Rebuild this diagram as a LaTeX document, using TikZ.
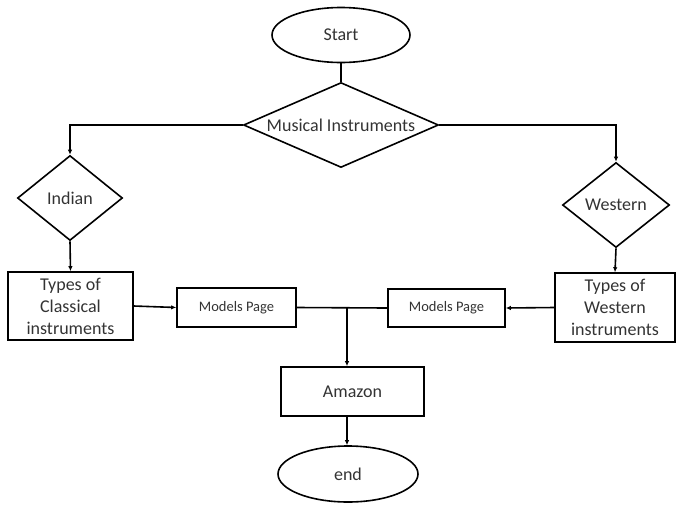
\documentclass[tikz,border=0pt]{standalone}
\usepackage{fontspec}
\setmainfont{Carlito}
\usetikzlibrary{shapes.geometric,arrows.meta}
\begin{document}
\begin{tikzpicture}[x=1pt,y=-1pt,
  every node/.style={font=\fontsize{18}{22}\selectfont, text=black!80},
  line/.style={draw=black, line width=1.6pt},
  arr/.style={line, -{Latex[length=5pt,width=4.5pt]}},
  oval/.style={ellipse, draw, line width=1.6pt, inner sep=0pt},
  dec/.style={diamond, draw, line width=1.6pt, inner sep=0pt, aspect=2},
  box/.style={rectangle, draw, line width=1.6pt, inner sep=0pt, align=center},
  small/.style={font=\fontsize{14.5}{17}\selectfont}]
\useasboundingbox (0,0) rectangle (677,504);
\node[oval, minimum width=138pt, minimum height=55pt] (start) at (341,35) {Start};
\node[dec, aspect=2.3, minimum width=195pt, minimum height=85pt] (mi) at (341,125) {Musical Instruments};
\node[dec, minimum width=105pt, minimum height=85pt] (indian) at (70,198) {Indian};
\node[dec, minimum width=107pt, minimum height=85pt] (western) at (616,205) {Western};
\node[box, minimum width=125pt, minimum height=68pt] (tc) at (70.5,306) {Types of\\Classical\\instruments};
\node[box, minimum width=120pt, minimum height=69pt] (tw) at (615,307.5) {Types of\\Western\\instruments};
\node[box, small, minimum width=119pt, minimum height=39pt] (mp1) at (236.5,307.5) {Models Page};
\node[box, small, minimum width=117pt, minimum height=38pt] (mp2) at (446.5,308) {Models Page};
\node[box, minimum width=143pt, minimum height=49pt] (amazon) at (352.5,391.5) {Amazon};
\node[oval, minimum width=140pt, minimum height=56pt] (end) at (348,474) {end};
\coordinate (j) at (347,308);
\draw[line] (start.south) -- (mi.north);
\draw[arr] (mi.west) -| (indian.north);
\draw[arr] (mi.east) -| (western.north);
\draw[arr] (indian.south) -- (tc.north);
\draw[arr] (western.south) -- (tw.north);
\draw[arr] (tc.east) -- (mp1.west);
\draw[arr] (tw.west) -- (mp2.east);
\draw[line] (mp1.east) -- (mp2.west);
\draw[arr] (j) -- (j |- amazon.north);
\draw[arr] (amazon.south -| j) -- (j |- end.north);
\end{tikzpicture}
\end{document}
